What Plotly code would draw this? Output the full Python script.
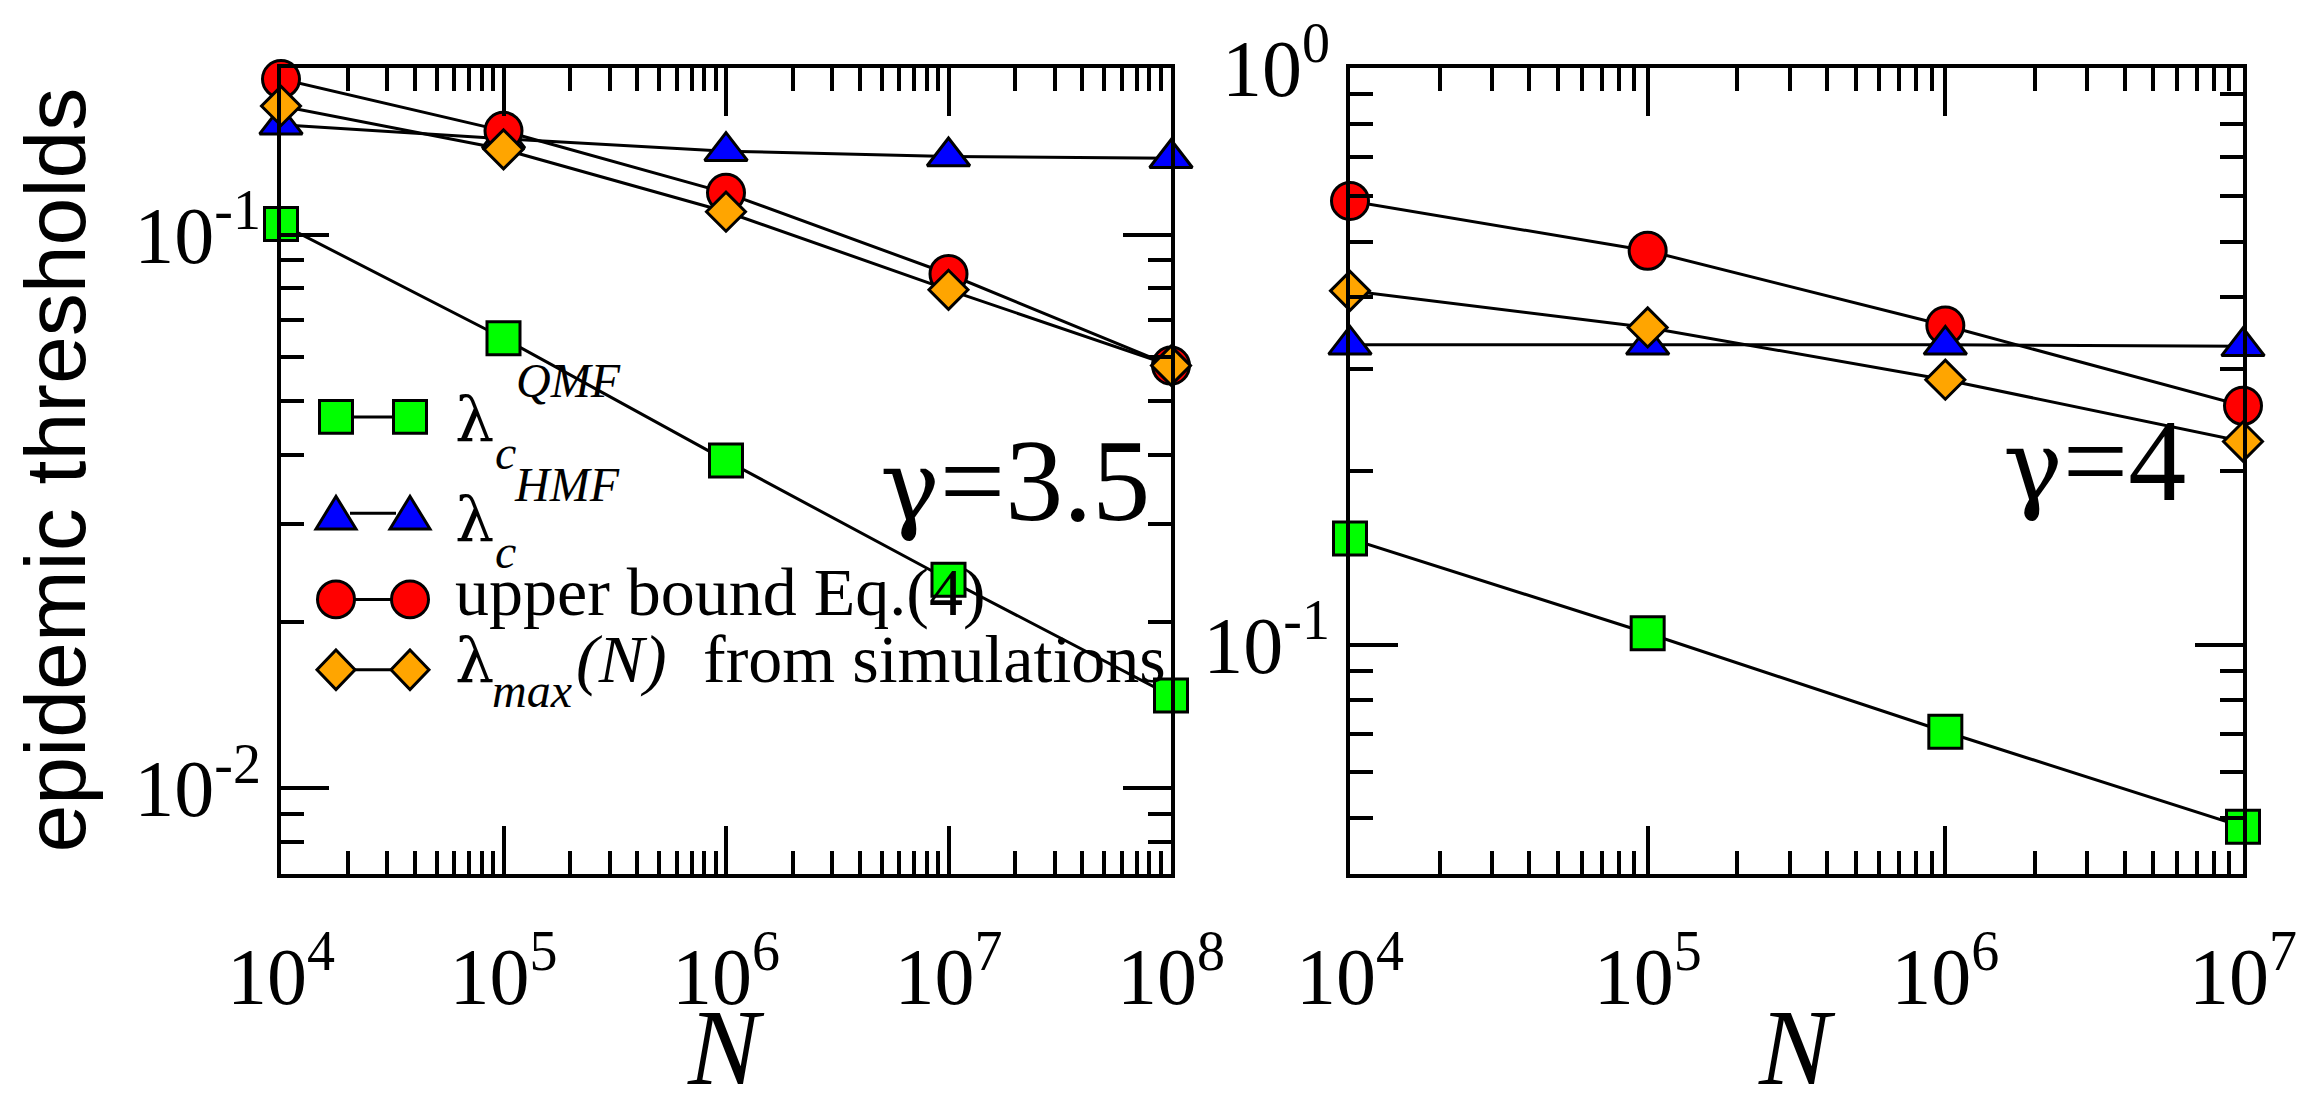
import plotly.graph_objects as go

# ---------------- data ----------------
N_35 = [1e4, 1e5, 1e6, 1e7, 1e8]
qmf_35 = [0.1045, 0.0650, 0.0391, 0.0238, 0.0147]
hmf_35 = [0.158, 0.149, 0.1415, 0.1384, 0.1374]
upper_35 = [0.191, 0.154, 0.119, 0.0849, 0.0580]
lmax_35 = [0.1708, 0.1426, 0.110, 0.0795, 0.0580]

N_4 = [1e4, 1e5, 1e6, 1e7]
qmf_4 = [0.1527, 0.1046, 0.0706, 0.0483]
hmf_4 = [0.331, 0.331, 0.331, 0.329]
upper_4 = [0.588, 0.482, 0.3575, 0.2595]
lmax_4 = [0.4107, 0.3548, 0.288, 0.225]

x_ticks_35 = [1e4, 1e5, 1e6, 1e7, 1e8]
x_ticktext_35 = ["10<sup>4</sup>", "10<sup>5</sup>", "10<sup>6</sup>", "10<sup>7</sup>", "10<sup>8</sup>"]
x_ticks_4 = [1e4, 1e5, 1e6, 1e7]
x_ticktext_4 = ["10<sup>4</sup>", "10<sup>5</sup>", "10<sup>6</sup>", "10<sup>7</sup>"]
y_ticks_35 = [0.01, 0.1]
y_ticktext_35 = ["10<sup>-2</sup>", "10<sup>-1</sup>"]
y_ticks_4 = [0.1, 1.0]
y_ticktext_4 = ["10<sup>-1</sup>", "10<sup>0</sup>"]

GREEK_FONT = "DejaVu Serif"
SERIF = "Liberation Serif, DejaVu Serif, serif"
SANS = "Liberation Sans, Arial, sans-serif"

# legend text pieces: (text, x_left_px, baseline_px, size, italic, family)
legend_pieces = [
    ("λ", 454, 437, 62, False, GREEK_FONT), ("c", 494, 465, 48, True, SERIF),
    ("QMF", 515, 393, 48, True, SERIF),
    ("λ", 454, 538, 62, False, GREEK_FONT), ("c", 494, 565, 48, True, SERIF),
    ("HMF", 513, 497, 48, True, SERIF),
    ("upper bound Eq.(4)", 454, 613, 68, False, SERIF),
    ("λ", 454, 680, 62, False, GREEK_FONT), ("max", 491, 705, 48, True, SERIF),
    ("(N)", 575, 680, 68, True, SERIF),
    ("from simulations", 702, 680, 68, False, SERIF),
]

# ---------------- styles ----------------
GREEN, BLUE, RED, ORANGE = "#00ff00", "#0000ff", "#ff0000", "#ffa500"

W, H = 2312, 1094
ML, MR, MT, MB = 281, 69, 61, 220
PW = W - ML - MR
PH = H - MT - MB


def px(x):
    return (x - ML) / PW


def py(y):
    return (H - MB - y) / PH


def mid(baseline, size):
    # centre of the annotation box for a given baseline
    return baseline - 0.34 * size


def minor_vals(lo, hi):
    vals = []
    e = lo
    while e < hi:
        for k in range(2, 10):
            vals.append(k * 10.0 ** e)
        e += 1
    return vals


fig = go.Figure()


def add_series(x, y, sym, size, color, xa, ya):
    fig.add_trace(go.Scatter(
        x=x, y=y, mode="lines+markers", xaxis=xa, yaxis=ya,
        line=dict(color="black", width=3),
        marker=dict(symbol=sym, size=size, color=color, line=dict(color="black", width=3)),
        cliponaxis=False, showlegend=False))


SQ, TRI, CIR, DIA = ("square", 33), ("triangle-up", 37), ("circle", 37), ("diamond", 30)

# left panel (gamma = 3.5)
add_series(N_35, qmf_35, *SQ, GREEN, "x", "y")
add_series(N_35, hmf_35, *TRI, BLUE, "x", "y")
add_series(N_35, upper_35, *CIR, RED, "x", "y")
add_series(N_35, lmax_35, *DIA, ORANGE, "x", "y")
# right panel (gamma = 4)
add_series(N_4, upper_4, *CIR, RED, "x2", "y2")
add_series(N_4, hmf_4, *TRI, BLUE, "x2", "y2")
add_series(N_4, lmax_4, *DIA, ORANGE, "x2", "y2")
add_series(N_4, qmf_4, *SQ, GREEN, "x2", "y2")

axis_common = dict(
    type="log", showline=True, linewidth=4, linecolor="black", mirror="ticks",
    ticks="inside", ticklen=48, tickwidth=4, tickcolor="black",
    showgrid=False, zeroline=False,
    tickfont=dict(family=SERIF, size=80, color="black"),
)
minor_common = dict(ticks="inside", ticklen=23, tickwidth=4, tickcolor="black", showgrid=False)

fig.update_layout(
    width=W, height=H,
    margin=dict(l=ML, r=MR, t=MT, b=MB),
    paper_bgcolor="white", plot_bgcolor="white",
    showlegend=False,
    xaxis=dict(axis_common, domain=[px(281), px(1171)], range=[4, 8],
               tickmode="array", tickvals=x_ticks_35, ticktext=x_ticktext_35,
               ticklabelstandoff=30,
               minor=dict(minor_common, tickvals=minor_vals(4, 8)), anchor="y"),
    yaxis=dict(axis_common, domain=[0, 1], range=[-2.1549, -0.69897],
               tickmode="array", tickvals=y_ticks_35, ticktext=y_ticktext_35,
               minor=dict(minor_common, tickvals=minor_vals(-3, -1)), anchor="x"),
    xaxis2=dict(axis_common, domain=[px(1350), px(2243)], range=[4, 7],
                tickmode="array", tickvals=x_ticks_4, ticktext=x_ticktext_4,
                ticklabelstandoff=30,
                minor=dict(minor_common, tickvals=minor_vals(4, 7)), anchor="y2"),
    yaxis2=dict(axis_common, domain=[0, 1], range=[-1.39794, 0],
                tickmode="array", tickvals=y_ticks_4, ticktext=y_ticktext_4,
                minor=dict(minor_common, tickvals=minor_vals(-2, 0)), anchor="x2"),
)

ann = []
# y axis title
ann.append(dict(text="epidemic thresholds", x=px(55), y=py(467), xref="paper", yref="paper",
                textangle=-90, showarrow=False, xanchor="center", yanchor="middle",
                font=dict(family=SANS, size=86, color="black")))
# x axis titles
for cx in (726, 1797):
    ann.append(dict(text="<i>N</i>", x=px(cx), y=py(1050), xref="paper", yref="paper",
                    showarrow=False, xanchor="center", yanchor="middle",
                    font=dict(family=SERIF, size=107, color="black")))
# gamma labels
gspan = f"<span style='font-family:{GREEK_FONT};font-size:100px'>γ</span>"
ann.append(dict(text=gspan + "=3.5", x=px(1015), y=py(mid(517, 116)), xref="paper", yref="paper",
                showarrow=False, xanchor="center", yanchor="middle",
                font=dict(family=SERIF, size=116, color="black")))
ann.append(dict(text=gspan + "=4", x=px(2094), y=py(mid(497, 116)), xref="paper", yref="paper",
                showarrow=False, xanchor="center", yanchor="middle",
                font=dict(family=SERIF, size=116, color="black")))

# custom legend text
for txt, lx, base, size, ital, fam in legend_pieces:
    ann.append(dict(text=f"<i>{txt}</i>" if ital else txt, x=px(lx), y=py(mid(base, size)),
                    xref="paper", yref="paper", showarrow=False,
                    xanchor="left", yanchor="middle", borderpad=0,
                    font=dict(family=fam, size=size, color="black")))
fig.update_layout(annotations=ann)

# custom legend keys (layout shapes)
rows_y = [413, 510, 597, 668]
shapes = []
keys = [("sq", GREEN), ("tri", BLUE), ("cir", RED), ("dia", ORANGE)]
for (kind, col), ry in zip(keys, rows_y):
    shapes.append(dict(type="line", xref="paper", yref="paper",
                       x0=px(350), x1=px(396), y0=py(ry), y1=py(ry),
                       line=dict(color="black", width=3), layer="above"))
    for cx in (336, 410):
        style = dict(xref="paper", yref="paper", fillcolor=col,
                     line=dict(color="black", width=3), layer="above")
        if kind == "sq":
            shapes.append(dict(type="rect", x0=px(cx - 16.5), x1=px(cx + 16.5),
                               y0=py(ry - 16.5), y1=py(ry + 16.5), **style))
        elif kind == "cir":
            shapes.append(dict(type="circle", x0=px(cx - 18.5), x1=px(cx + 18.5),
                               y0=py(ry - 18.5), y1=py(ry + 18.5), **style))
        elif kind == "tri":
            pts = [(cx - 20, ry + 16), (cx + 20, ry + 16), (cx, ry - 17)]
            path = "M " + " L ".join(f"{px(a):.5f},{py(b):.5f}" for a, b in pts) + " Z"
            shapes.append(dict(type="path", path=path, **style))
        else:
            pts = [(cx, ry - 20), (cx + 19, ry), (cx, ry + 20), (cx - 19, ry)]
            path = "M " + " L ".join(f"{px(a):.5f},{py(b):.5f}" for a, b in pts) + " Z"
            shapes.append(dict(type="path", path=path, **style))
fig.update_layout(shapes=shapes)

fig.write_html("out.html")
